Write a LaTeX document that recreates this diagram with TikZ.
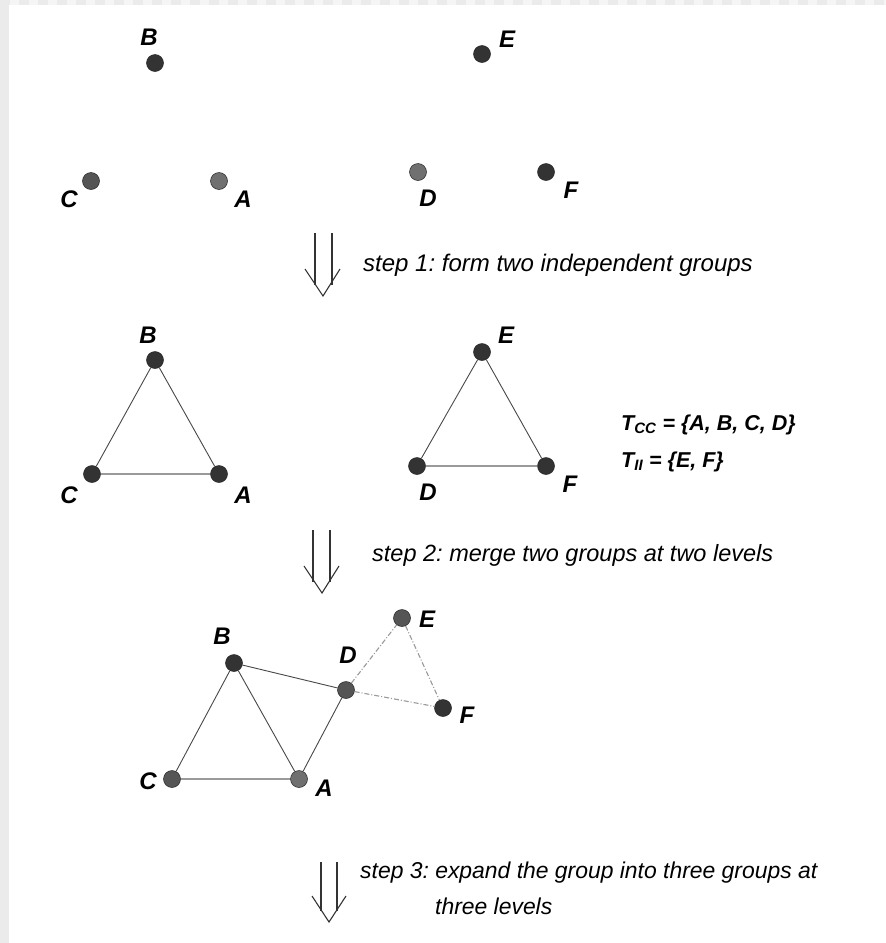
\documentclass[tikz,border=0pt]{standalone}
\usepackage{fontspec}
\newfontfamily\hv{Liberation Sans}
\frenchspacing
\definecolor{dk}{HTML}{333333}
\definecolor{md}{HTML}{555555}
\definecolor{lg}{HTML}{707070}
\definecolor{edgedk}{HTML}{484848}
\definecolor{edgelt}{HTML}{9A9A9A}
\definecolor{stripA}{HTML}{EBEBEB}
\definecolor{stripB}{HTML}{F5F5F5}
\tikzset{
  vtx/.style={circle,minimum size=17pt,inner sep=0pt,draw=black!85,line width=0.5pt},
  lbl/.style={inner sep=0pt,font=\hv\bfseries\itshape\fontsize{24}{28}\selectfont},
  steptext/.style={inner sep=0pt,anchor=west,font=\hv\itshape\fontsize{23.5}{27}\selectfont},
  steptextsm/.style={inner sep=0pt,anchor=west,font=\hv\itshape\fontsize{22.9}{27}\selectfont},
  steptextlg/.style={inner sep=0pt,anchor=west,font=\hv\itshape\fontsize{24}{27}\selectfont},
  settext/.style={inner sep=0pt,anchor=west,font=\hv\bfseries\itshape\fontsize{21.5}{25}\selectfont},
  thinedge/.style={draw=edgedk,line width=0.9pt},
  thickedge/.style={draw=edgelt,line width=2.2pt},
  dotedge/.style={draw=edgelt,line width=1.1pt,dash pattern=on 5pt off 2pt on 1pt off 2pt},
  shaft/.style={draw=dk,line width=1.1pt},
}
\begin{document}
\begin{tikzpicture}[x=1pt,y=-1pt]
\useasboundingbox (0,0) rectangle (886,943);
\fill[white] (0,0) rectangle (886,943);
% top checkered strip and left strip
\foreach \i in {0,...,46} {
  \fill[stripA] (\i*19,0) rectangle ++(9.5,5);
  \fill[stripB] (\i*19+9.5,0) rectangle ++(9.5,5);
}
\fill[stripA] (0,0) rectangle (9,943);

% ---------- stage 1 ----------
\node[vtx,fill=dk] (b1) at (155,63) {};
\node[vtx,fill=md] (c1) at (91,181) {};
\node[vtx,fill=lg] (a1) at (219,181) {};
\node[vtx,fill=dk] (e1) at (482,54) {};
\node[vtx,fill=lg] (d1) at (418,172) {};
\node[vtx,fill=dk] (f1) at (546,172) {};
\node[lbl] (lb1) at (149,37) {B};
\node[lbl] (lc1) at (69,199) {C};
\node[lbl] (la1) at (243,199) {A};
\node[lbl] (le1) at (507,39) {E};
\node[lbl] (ld1) at (428,198) {D};
\node[lbl] (lf1) at (571,190) {F};

% arrow 1
\coordinate (s1a) at (315,233);
\coordinate (s1b) at (332,233);
\coordinate (s1l) at (305,269);
\coordinate (s1t) at (323,296);
\coordinate (s1r) at (340,269);
\draw[shaft] (s1a) -- ++(0,52);
\draw[shaft] (s1b) -- ++(0,52);
\draw[shaft,line join=miter] (s1l) -- (s1t) -- (s1r);
\node[steptextlg] (st1) at (363,265) {step 1: form two independent groups};

% ---------- stage 2 ----------
\node[vtx,fill=dk] (b2) at (155,360) {};
\node[vtx,fill=dk] (c2) at (92,474) {};
\node[vtx,fill=dk] (a2) at (219,474) {};
\node[vtx,fill=dk] (e2) at (482,352) {};
\node[vtx,fill=dk] (d2) at (417,466) {};
\node[vtx,fill=dk] (f2) at (546,466) {};
\draw[thinedge] (b2) -- (c2);
\draw[thinedge] (b2) -- (a2);
\draw[thickedge] (c2) -- (a2);
\draw[thinedge] (e2) -- (d2);
\draw[thinedge] (e2) -- (f2);
\draw[thickedge] (d2) -- (f2);
\node[lbl] (lb2) at (148,335) {B};
\node[lbl] (lc2) at (69,495) {C};
\node[lbl] (la2) at (243,495) {A};
\node[lbl] (le2) at (506,335) {E};
\node[lbl] (ld2) at (428,492) {D};
\node[lbl] (lf2) at (570,484) {F};
\node[settext] (tcc) at (621,425) {T\textsubscript{CC} = \{A, B, C, D\}};
\node[settext] (tii) at (621,462) {T\textsubscript{II} = \{E, F\}};

% arrow 2
\coordinate (s2a) at (313,530);
\coordinate (s2b) at (330,530);
\coordinate (s2l) at (304,566);
\coordinate (s2t) at (322,593);
\coordinate (s2r) at (339,566);
\draw[shaft] (s2a) -- ++(0,52);
\draw[shaft] (s2b) -- ++(0,52);
\draw[shaft,line join=miter] (s2l) -- (s2t) -- (s2r);
\node[steptext] (st2) at (372,555) {step 2: merge two groups at two levels};

% ---------- stage 3 ----------
\node[vtx,fill=dk] (b3) at (234,663) {};
\node[vtx,fill=md] (c3) at (172,779) {};
\node[vtx,fill=lg] (a3) at (299,779) {};
\node[vtx,fill=md] (d3) at (346,690) {};
\node[vtx,fill=md] (e3) at (402,618) {};
\node[vtx,fill=dk] (f3) at (443,708) {};
\draw[thinedge] (b3) -- (c3);
\draw[thinedge] (b3) -- (a3);
\draw[thinedge] (b3) -- (d3);
\draw[thinedge] (a3) -- (d3);
\draw[thickedge] (c3) -- (a3);
\draw[dotedge] (d3) -- (e3);
\draw[dotedge] (e3) -- (f3);
\draw[dotedge] (d3) -- (f3);
\node[lbl] (lb3) at (222,636) {B};
\node[lbl] (lc3) at (148,781) {C};
\node[lbl] (la3) at (324,788) {A};
\node[lbl] (ld3) at (348,655) {D};
\node[lbl] (le3) at (427,619) {E};
\node[lbl] (lf3) at (467,715) {F};

% arrow 3
\coordinate (s3a) at (321,862);
\coordinate (s3b) at (337,862);
\coordinate (s3l) at (312,896);
\coordinate (s3t) at (329,922);
\coordinate (s3r) at (346,896);
\draw[shaft] (s3a) -- ++(0,49);
\draw[shaft] (s3b) -- ++(0,49);
\draw[shaft,line join=miter] (s3l) -- (s3t) -- (s3r);
\node[steptextsm] (st3) at (360,873) {step 3: expand the group into three groups at};
\node[steptextsm] (st3b) at (435,906) {three levels};
\end{tikzpicture}
\end{document}
